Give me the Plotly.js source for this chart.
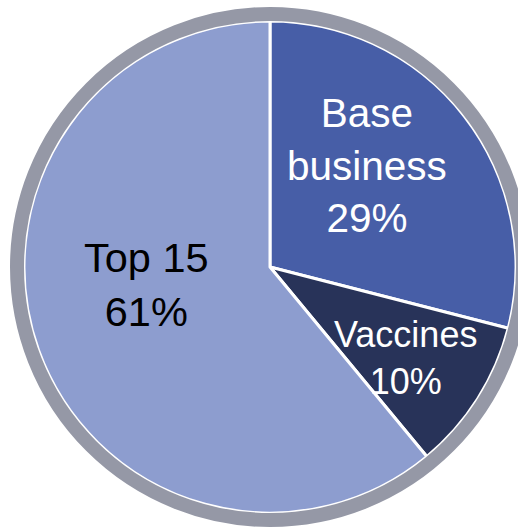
<!DOCTYPE html>
<html>
<head>
<meta charset="utf-8">
<script src="https://cdn.plot.ly/plotly-3.0.1.min.js"></script>
<style>html,body{margin:0;padding:0;background:#fff;}#chart{width:518px;height:528px;}</style>
</head>
<body>
<div id="chart"></div>
<script>
const labels = ["Base business", "Vaccines", "Top 15"];
const labelLines = ["Base<br>business", "Vaccines", "Top 15"];
const values = [29, 10, 61];
const colors = ["#475ea7", "#283359", "#8d9dcf"];
const textColors = ["#ffffff", "#ffffff", "#000000"];
const fontSizes = [40.5, 36, 41.5];
const labelPos = [[367, 165], [405, 358], [146, 284]];

const W = 518, H = 528;
const cx = 270, cy = 267, rIn = 246, ring = 14;
const rMid = rIn + ring / 2;

const trace = {
  type: "pie",
  labels: labels,
  values: values,
  sort: false,
  direction: "clockwise",
  rotation: 0,
  marker: { colors: colors, line: { color: "#ffffff", width: 3 } },
  textinfo: "none",
  hoverinfo: "label+percent",
  showlegend: false,
  domain: { x: [(cx - rIn) / W, (cx + rIn) / W], y: [(H - cy - rIn) / H, (H - cy + rIn) / H] }
};

const annotations = labels.map((l, i) => ({
  xref: "paper", yref: "paper",
  x: labelPos[i][0] / W, y: 1 - labelPos[i][1] / H,
  xanchor: "center", yanchor: "middle",
  text: labelLines[i] + "<br>" + values[i] + "%",
  showarrow: false,
  font: { family: "Liberation Sans, Arial, sans-serif", size: fontSizes[i], color: textColors[i] }
}));

const layout = {
  width: W, height: H,
  margin: { l: 0, r: 0, t: 0, b: 0 },
  paper_bgcolor: "#ffffff",
  showlegend: false,
  annotations: annotations,
  shapes: [{
    type: "circle", xref: "paper", yref: "paper",
    x0: (cx - rMid) / W, x1: (cx + rMid) / W,
    y0: (H - cy - rMid) / H, y1: (H - cy + rMid) / H,
    line: { color: "#9598a6", width: ring },
    fillcolor: "rgba(0,0,0,0)",
    layer: "above"
  }]
};

Plotly.newPlot("chart", [trace], layout, { displayModeBar: false, staticPlot: true });
</script>
</body>
</html>
